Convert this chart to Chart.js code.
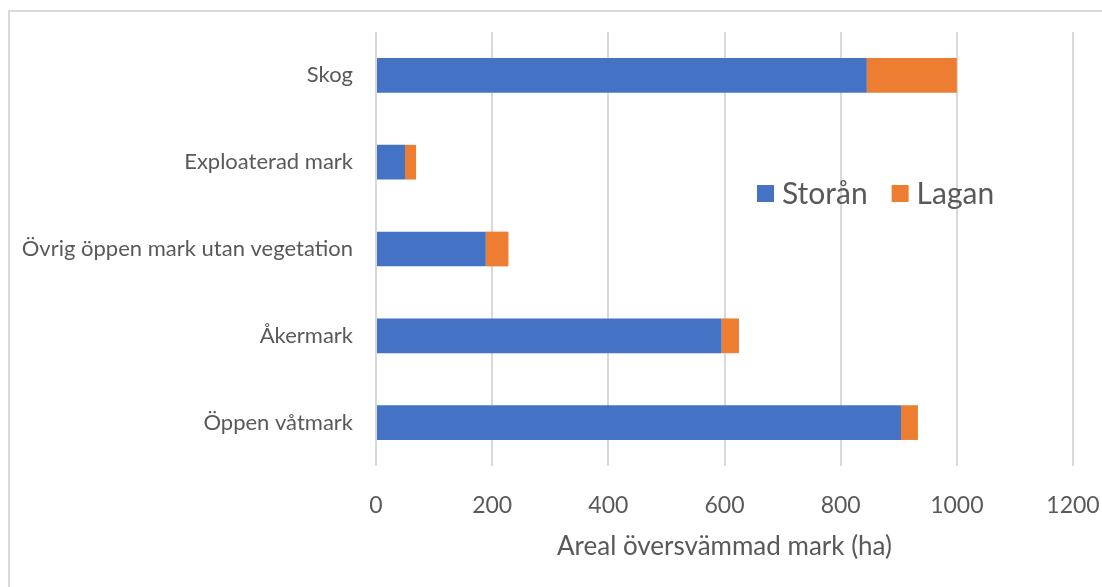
<!DOCTYPE html>
<html>
<head>
<meta charset="utf-8">
<script src="https://cdn.jsdelivr.net/npm/chart.js@4/dist/chart.umd.min.js"></script>
<style>
  html, body { margin: 0; padding: 0; background: #fff; }
  .frame {
    position: absolute; left: 8px; top: 10px; right: 0; bottom: 0;
    border-left: 2px solid #d9d9d9; border-top: 2px solid #d9d9d9;
  }
  .chartContainer { position: absolute; left: 0; top: 0; width: 1102px; height: 587px; }
</style>
</head>
<body>
<div class="frame"></div>
<div class="chartContainer"><canvas id="chart"></canvas></div>
<script>
const categories = [
  "Skog",
  "Exploaterad mark",
  "Övrig öppen mark utan vegetation",
  "Åkermark",
  "Öppen våtmark",
];
const storanValues = [845, 50, 189, 595, 904];
const laganValues = [155, 19, 39, 30, 29];
const xTicks = [0, 200, 400, 600, 800, 1000, 1200];

const textColor = "#595959";
const fontFamily = "Lato, 'Open Sans', sans-serif";

// legend drawn inside the plot area, to the right of the middle bars
const innerLegend = {
  id: "innerLegend",
  afterDraw(chart) {
    const ctx = chart.ctx;
    const y = 193;
    let x = 757;
    ctx.save();
    ctx.font = "30px " + fontFamily;
    ctx.textBaseline = "middle";
    chart.data.datasets.forEach((ds) => {
      ctx.fillStyle = ds.backgroundColor;
      ctx.fillRect(x, y - 8, 17, 17);
      ctx.fillStyle = textColor;
      ctx.fillText(ds.label, x + 25, y + 1);
      x += 25 + ctx.measureText(ds.label).width + 24;
    });
    ctx.restore();
  },
};

const ctx = document.getElementById("chart").getContext("2d");
new Chart(ctx, {
  type: "bar",
  data: {
    labels: categories,
    datasets: [
      { label: "Storån", data: storanValues, backgroundColor: "#4472c4" },
      { label: "Lagan", data: laganValues, backgroundColor: "#ed7d31" },
    ],
  },
  options: {
    indexAxis: "y",
    responsive: true,
    maintainAspectRatio: false,
    animation: false,
    barPercentage: 0.4,
    categoryPercentage: 1,
    layout: { padding: { left: 0, top: 32, right: 29, bottom: 0 } },
    plugins: {
      legend: { display: false },
      tooltip: { enabled: false },
    },
    scales: {
      x: {
        stacked: true,
        min: 0,
        max: 1200,
        afterBuildTicks: (scale) => {
          scale.ticks = xTicks.map((v) => ({ value: v }));
        },
        afterFit: (scale) => {
          scale.height = 121;
          scale.paddingLeft = 0;
          scale.paddingRight = 0;
        },
        border: { display: false },
        grid: { color: "#d9d9d9", lineWidth: 2, drawTicks: false },
        ticks: {
          color: textColor,
          font: { family: fontFamily, size: 23 },
          padding: 26,
          maxRotation: 0,
          callback: (v) => String(v),
        },
        title: {
          display: true,
          text: "Areal översvämmad mark (ha)",
          color: textColor,
          font: { family: fontFamily, size: 26 },
          padding: { top: 0, bottom: 25 },
        },
      },
      y: {
        stacked: true,
        afterFit: (scale) => {
          scale.width = 376;
          scale.paddingTop = 0;
          scale.paddingBottom = 0;
        },
        border: { display: false },
        grid: { display: false, drawTicks: false },
        ticks: {
          color: textColor,
          font: { family: fontFamily, size: 22 },
          padding: 23,
        },
      },
    },
  },
  plugins: [innerLegend],
});
</script>
</body>
</html>
